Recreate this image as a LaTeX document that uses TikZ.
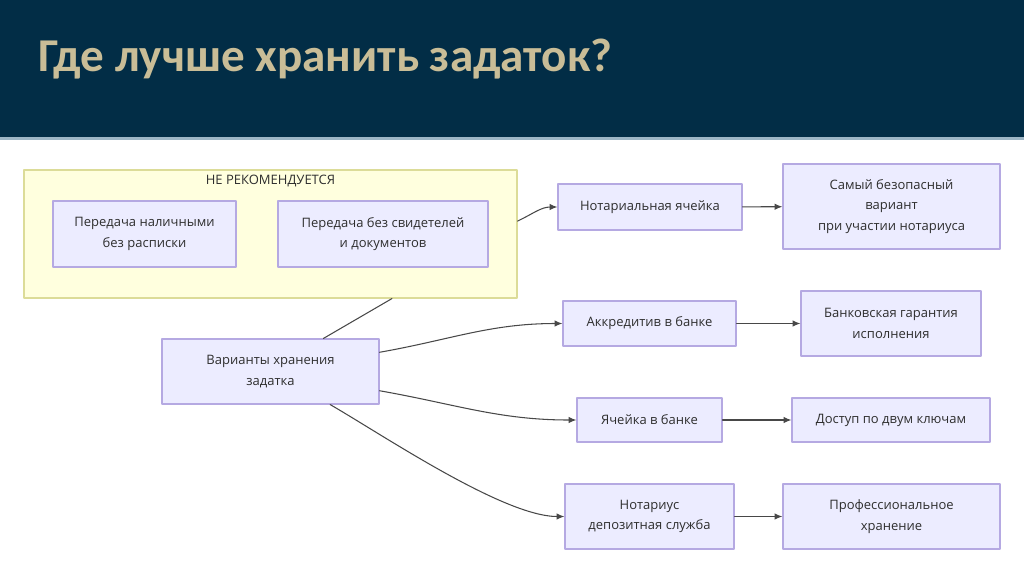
\documentclass[tikz,border=0pt]{standalone}
\usepackage{fontspec}
\setmainfont{Open Sans}
\newfontfamily\titlefont{Carlito}
\usetikzlibrary{arrows.meta,positioning}
\definecolor{headbg}{HTML}{022D46}
\definecolor{headline}{HTML}{9DB6C6}
\definecolor{titlecol}{HTML}{C9BD97}
\definecolor{boxfill}{HTML}{ECECFF}
\definecolor{boxline}{HTML}{B5A9E2}
\definecolor{grpfill}{HTML}{FFFFDE}
\definecolor{grpline}{HTML}{DCDC98}
\definecolor{edgecol}{HTML}{484848}
\definecolor{textcol}{HTML}{2E2E2E}

\tikzset{
  box/.style 2 args={draw=boxline,fill=boxfill,line width=0.8pt,align=center,
    text=textcol,font=\fontsize{9.25}{14.4}\selectfont,inner sep=0pt,
    minimum width=#1*0.025cm,minimum height=#2*0.025cm},
  edge/.style={draw=edgecol,line width=0.75pt},
  arr/.style={edge,-{Latex[length=5.5pt,width=4.5pt]}}
}

\begin{document}
\begin{tikzpicture}[x=0.025cm,y=-0.025cm,line cap=round,line join=round]
  \useasboundingbox (0,0) rectangle (1024,574);
  % header
  \fill[headbg] (0,0) rectangle (1024,137);
  \fill[headline] (0,137) rectangle (1024,139.5);
  \node[anchor=base west,inner sep=0pt,text=titlecol,
    font=\titlefont\bfseries\fontsize{33.5}{40}\selectfont] (title) at (38,71)
    {Где лучше хранить задаток?};
  % group "not recommended"
  \node[draw=grpline,fill=grpfill,line width=0.8pt,minimum width=493*0.025cm,
    minimum height=128*0.025cm,inner sep=0pt] (nr) at (270.5,234) {};
  \node[text=textcol,font=\fontsize{9.25}{11}\selectfont,inner sep=0pt] (nrlabel) at (270.5,181) {НЕ РЕКОМЕНДУЕТСЯ};
  \node[box={183}{66}] (nal) at (144.5,234) {Передача наличными\\без расписки};
  \node[box={210}{66}] (svid) at (383,234) {Передача без свидетелей\\и документов};
  % root
  \node[box={217}{65}] (var) at (270.5,371.5) {Варианты хранения\\задатка};
  % storage options
  \node[box={184}{46}] (notcell) at (650,207) {Нотариальная ячейка};
  \node[box={217}{85}] (safe) at (891.5,206.5) {Самый безопасный\\вариант\\при участии нотариуса};
  \node[box={173}{45}] (akk) at (649.5,323.5) {Аккредитив в банке};
  \node[box={180}{65}] (bgar) at (891,323.5) {Банковская гарантия\\исполнения};
  \node[box={145}{44}] (cell) at (649.5,420) {Ячейка в банке};
  \node[box={198}{44}] (dost) at (891,420) {Доступ по двум ключам};
  \node[box={169}{65}] (depo) at (649.5,516.5) {Нотариус\\депозитная служба};
  \node[box={217}{65}] (prof) at (891.5,516.5) {Профессиональное\\хранение};
  % connectors
  \draw[edge] (var.32) -- (nr.-28);
  \draw[arr] (nr.3) to[out=25,in=180] (notcell.west);
  \draw[arr] (var.10) to[out=10,in=180] (akk.west);
  \draw[arr] (var.-10) to[out=-10,in=180] (cell.west);
  \draw[arr] (var.-29) to[out=-30,in=180,looseness=0.6] (depo.west);
  \draw[arr] (notcell) -- (safe);
  \draw[arr] (akk) -- (bgar);
  \draw[arr] (cell) -- (dost);
  \draw[arr] (depo) -- (prof);
\end{tikzpicture}
\end{document}
